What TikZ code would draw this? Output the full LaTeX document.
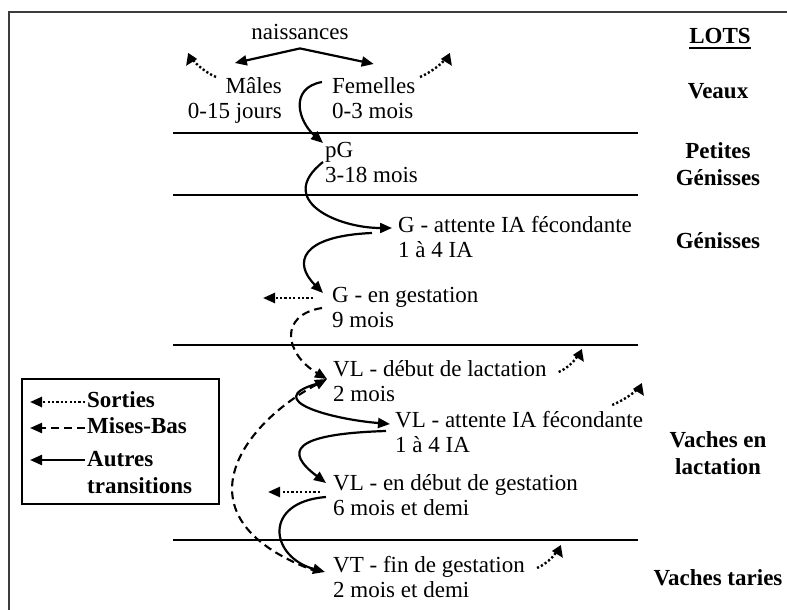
\documentclass[tikz,border=0pt]{standalone}
\usepackage{fontspec}
\setmainfont{Liberation Serif}
\usetikzlibrary{arrows.meta}
\usetikzlibrary{calc}
\definecolor{frame-grey}{RGB}{60, 60, 60}

\tikzset{
    etat/.style={inner sep=0pt, font=\fontsize{23}{25.5}\selectfont, align=left},
    lot/.style={inner sep=0pt, font=\fontsize{23}{27}\selectfont\bfseries, align=center},
    trans/.style={line width=2.2pt, -{Triangle[length=12pt, width=10pt]}},
    sortie/.style={line width=2.4pt, dash pattern=on 2.2pt off 2.2pt, -{Triangle[length=12pt, width=10pt]}},
    misebas/.style={line width=2.1pt, dash pattern=on 8pt off 5pt, -{Triangle[length=12pt, width=10pt]}},
    separ/.style={line width=2.8pt}
}

\begin{document}
\begin{tikzpicture}[x=1pt, y=1pt]
                \useasboundingbox (0, 0) rectangle (787, -610);
                \draw[line width=1.6pt, frame-grey] (787, -12) -- (9, -12) -- (9, -610);
                \draw[separ] (173, -133) -- (638, -133);
                \draw[separ] (173, -195) -- (638, -195);
                \draw[separ] (173, -345) -- (638, -345);
                \draw[separ] (173, -540) -- (638, -540);

                \node[etat, anchor=base] (nais) at (300, -40) {naissances};
                \node[etat, align=right, anchor=north east] (males) at (282, -75) {\strut Mâles\\0-15 jours};
                \node[etat, anchor=north west] (fem) at (332, -75) {\strut Femelles\\0-3 mois};
                \node[etat, anchor=north west] (pg) at (325, -139) {\strut pG\\3-18 mois};
                \node[etat, anchor=north west] (gatt) at (398, -214) {\strut G - attente IA fécondante\\1 à 4 IA};
                \node[etat, anchor=north west] (ggest) at (332, -284) {\strut G - en gestation\\9 mois};
                \node[etat, anchor=north west] (vldeb) at (333, -358) {\strut VL - début de lactation\\2 mois};
                \node[etat, anchor=north west] (vlatt) at (395, -409) {\strut VL - attente IA fécondante\\1 à 4 IA};
                \node[etat, anchor=north west] (vlgest) at (333, -472) {\strut VL - en début de gestation\\6 mois et demi};
                \node[etat, anchor=north west] (vt) at (333, -554) {\strut VT - fin de gestation\\2 mois et demi};

                \node[lot, anchor=base] (lots) at (720, -44) {LOTS};
                \draw[line width=1.6pt] ([yshift=-4pt]lots.base west) -- ([yshift=-4pt]lots.base east);
                \node[lot, anchor=base] (veaux) at (718, -99) {Veaux};
                \node[lot, anchor=north] (pgen) at (718, -139) {\strut Petites\\Génisses};
                \node[lot, anchor=base] (gen) at (718, -248) {Génisses};
                \node[lot, anchor=north] (vlact) at (718, -428) {\strut Vaches en\\lactation};
                \node[lot, anchor=base] (vtar) at (718, -585) {Vaches taries};

                \draw[line width=1.1pt] (22, -379) rectangle (219, -504);
                \node[lot, anchor=base west] (sor) at (87, -407) {Sorties};
                \node[lot, anchor=base west] (mb) at (87, -433) {Mises-Bas};
                \node[lot, align=left, anchor=north west] (aut) at (87, -447) {\strut Autres\\transitions};
                \coordinate (lsor) at (30, -402);
                \coordinate (lmb) at (30, -428);
                \coordinate (laut) at (30, -460);
                \draw[sortie] ([xshift=-2pt, yshift=5pt]sor.base west) -- (lsor);
                \draw[misebas] ([xshift=-2pt, yshift=5pt]mb.base west) -- (lmb);
                \draw[trans] ($(aut.north west)+(-2, -13)$) -- (laut);

                \draw[trans] ([yshift=-8pt]nais.south) -- ([yshift=12pt]males.north);
                \draw[trans] ([yshift=-8pt]nais.south) -- ([yshift=11pt]fem.north);
                \draw[trans] ($(fem.north west)+(-10, -7)$) .. controls +(-33, -6) and +(-25, 22) .. ($(pg.north west)+(-2, -4)$);
                \draw[trans] ($(pg.north west)+(-2, -23)$) .. controls +(-48, -38) and +(-55, 0) .. ($(gatt.north west)+(-6, -14)$);
                \draw[trans] ($(gatt.north west)+(-26, -19)$) .. controls +(-72, -3) and +(-30, 30) .. ($(ggest.north west)+(-9, -9)$);
                \draw[misebas] ($(ggest.north west)+(-10, -24)$) .. controls +(-44, -7) and +(-42, 25) .. ($(vldeb.north west)+(-6, -21)$);
                \draw[misebas] ($(vt.north west)+(-15, -18)$) .. controls +(-146, 52) and +(-87, -46) .. ($(vldeb.north west)+(-6, -21)$);
                \draw[trans] ($(vldeb.north west)+(-17, -26)$) .. controls +(-54, -16) and +(-60, 5) .. ($(vlatt.north west)+(-5, -15)$);
                \draw[trans] ($(vlatt.north west)+(-9, -22)$) .. controls +(-96, -3) and +(-41, 31) .. ($(vlgest.north west)+(-7, -11)$);
                \draw[trans] ($(vlgest.north west)+(-7, -25)$) .. controls +(-64, -5) and +(-55, 15) .. ($(vt.north west)+(-8, -18)$);

                \coordinate (smal) at (186, -66);
                \coordinate (sfem) at (452, -66);
                \coordinate (sgg) at (263, -298);
                \coordinate (svd) at (584, -362);
                \coordinate (sva) at (644, -396);
                \coordinate (svg) at (268, -492);
                \coordinate (svt) at (563, -558);
                \draw[sortie] ($(males.north east)+(-66, -2)$) .. controls +(-10, 4) and +(4, 6) .. (smal);
                \draw[sortie] ($(fem.north west)+(88, -2)$) .. controls +(10, 4) and +(-4, 6) .. (sfem);
                \draw[sortie] ($(ggest.north west)+(-19, -14)$) -- (sgg);
                \draw[sortie] ($(vldeb.north east)+(12, -14)$) .. controls +(10, 4) and +(-4, 6) .. (svd);
                \draw[sortie] ($(vlatt.north east)+(-31, 4)$) .. controls +(10, 4) and +(-4, 6) .. (sva);
                \draw[sortie] ($(vlgest.north west)+(-13, -20)$) -- (svg);
                \draw[sortie] ($(vt.north east)+(12, -14)$) .. controls +(10, 4) and +(-4, 6) .. (svt);
            \end{tikzpicture}
\end{document}
